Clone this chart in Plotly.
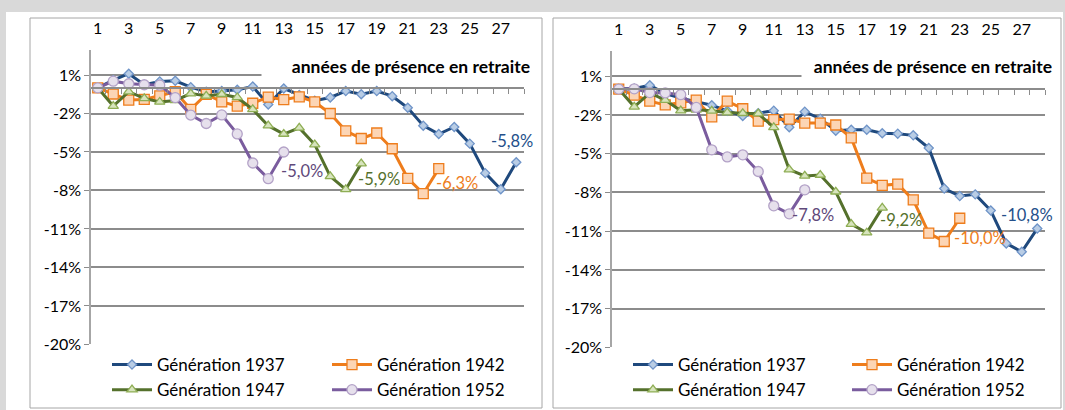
import plotly.graph_objects as go

# ---------------- data ----------------
years = ["Génération 1937", "Génération 1942", "Génération 1947", "Génération 1952"]

# left panel (values in %)
left_1937 = [0, 0.6, 1.1, 0.25, 0.5, 0.55, 0.05, -0.3, -0.25, -0.15, 0.1, -1.3, -0.05, -0.55,
             -1.0, -0.75, -0.25, -0.5, -0.25, -0.65, -1.55, -2.95, -3.6, -3.05, -4.35, -6.65, -7.9, -5.8]
left_1942 = [0, -0.48, -0.95, -0.9, -0.63, -0.3, -1.68, -0.5, -1.1, -1.42, -1.2, -0.72, -0.92,
             -0.7, -1.1, -2.0, -3.35, -3.95, -3.52, -4.75, -7.05, -8.25, -6.3]
left_1947 = [0, -1.42, -0.3, -0.82, -1.1, -0.98, -0.45, -0.62, -0.5, -0.75, -1.68, -2.95, -3.6,
             -3.12, -4.42, -6.9, -7.92, -5.9]
left_1952 = [0, 0.52, 0.32, 0.24, 0.21, -0.76, -2.12, -2.78, -2.11, -3.59, -5.86, -7.08, -5.0]

# right panel (values in %)
right_1937 = [0, 0.05, 0.3, -0.35, -0.7, -0.95, -1.25, -1.68, -2.08, -1.86, -1.67, -2.95, -1.75,
              -2.29, -3.22, -3.15, -3.15, -3.42, -3.45, -3.58, -4.56, -7.7, -8.28, -8.15, -9.4,
              -11.95, -12.6, -10.8]
right_1942 = [0, -0.47, -0.93, -1.22, -1.06, -0.85, -2.15, -0.93, -1.52, -2.48, -2.37, -2.32,
              -2.63, -2.63, -2.78, -3.78, -6.9, -7.45, -7.36, -8.58, -11.15, -11.8, -10.0]
right_1947 = [0, -1.37, -0.3, -0.85, -1.67, -1.6, -1.68, -1.82, -1.87, -1.9, -2.96, -6.23, -6.72,
              -6.65, -7.95, -10.45, -11.12, -9.2]
right_1952 = [0, 0.02, -0.27, -0.3, -0.43, -1.42, -4.7, -5.25, -5.09, -6.38, -9.04, -9.66, -7.8]

y_ticks = [1, -2, -5, -8, -11, -14, -17, -20]
x_tick_labels = list(range(1, 28, 2))
n_years = 28
axis_title = "années de présence en retraite"

# ---------------- styling ----------------
W, H = 1065, 410
FONT = "Lato"
line_colors = ["#1F497D", "#EE7D1C", "#55712C", "#7A5C9E"]
label_colors = ["#24508A", "#EE7D1C", "#55712C", "#5F497A"]
marker_sym = ["diamond", "square", "triangle-up", "circle"]
marker_size = [7, 10, 9, 10]
marker_fill = ["#B9CDE5", "#FCD5B5", "#D7E4BD", "#E6E0EC"]
marker_line = ["#6F94C8", "#EE7D1C", "#8FAE55", "#B3A2C7"]

YMIN, YMAX = -20, 2.95


def py(px):
    return 1 - px / H


panels = [
    dict(data=[left_1937, left_1942, left_1947, left_1952], xd=[90 / W, 524 / W],
         yd=[py(344.4), py(50)], xa="x", ya="y", xo="x3",
         legends=["legend", "legend2", "legend", "legend2"],
         lab_off=[(-4, -21), (18, 14), (18, 15), (18, 19)], title_x=533, title_w=266),
    dict(data=[right_1937, right_1942, right_1947, right_1952], xd=[611 / W, 1045 / W],
         yd=[py(347.4), py(51)], xa="x2", ya="y2", xo="x4",
         legends=["legend3", "legend4", "legend3", "legend4"],
         lab_off=[(-10, -14), (20, 20), (19, 12), (8, 25)], title_x=1055, title_w=248),
]

fig = go.Figure()
annotations = []
for p in panels:
    for i, vals in enumerate(p["data"]):
        xs = list(range(1, len(vals) + 1))
        fig.add_trace(go.Scatter(
            x=xs, y=vals, mode="lines+markers", name=years[i],
            xaxis=p["xa"], yaxis=p["ya"], legend=p["legends"][i],
            line=dict(color=line_colors[i], width=3),
            marker=dict(symbol=marker_sym[i], size=marker_size[i], color=marker_fill[i],
                        line=dict(color=marker_line[i], width=1.3)),
            hoverinfo="skip"))
        dx, dy = p["lab_off"][i]
        last = vals[-1]
        annotations.append(dict(
            x=len(vals), y=last, xref=p["xa"], yref=p["ya"],
            text=("%.1f%%" % last).replace(".", ","), showarrow=False,
            xshift=dx, yshift=-dy, xanchor="center", yanchor="middle",
            font=dict(family=FONT, size=16.5, color=label_colors[i])))
    # helper trace for the overlay (label) axis
    fig.add_trace(go.Scatter(x=[1], y=[None], xaxis=p["xo"], yaxis=p["ya"],
                             showlegend=False, hoverinfo="skip"))
    # axis title with white box
    annotations.append(dict(
        x=p["title_x"] / W, y=py(66), xref="paper", yref="paper",
        text="<b>%s</b>" % axis_title, showarrow=False, xanchor="right", yanchor="middle",
        align="right", width=p["title_w"], height=22, bgcolor="white", borderpad=2,
        font=dict(family=FONT, size=17.5, color="#000000")))

layout_axes = {}
for k, p in enumerate(panels):
    sfx = "" if k == 0 else "2"
    osfx = "3" if k == 0 else "4"
    zero_pos = p["yd"][0] + (0 - YMIN) / (YMAX - YMIN) * (p["yd"][1] - p["yd"][0])
    layout_axes["xaxis" + sfx] = dict(
        domain=p["xd"], range=[0.5, n_years + 0.5], anchor="free", position=zero_pos,
        showgrid=False, zeroline=False, showline=True, linecolor="#8C8C8C", linewidth=1.5,
        ticks="outside", ticklen=5, tickcolor="#8C8C8C", tickwidth=1.3,
        tickvals=[v + 0.5 for v in range(0, n_years + 1)], showticklabels=False, fixedrange=True)
    layout_axes["xaxis" + osfx] = dict(
        overlaying="x" + sfx, range=[0.5, n_years + 0.5], side="top", anchor="y" + sfx,
        showgrid=False, zeroline=False, showline=False,
        tickvals=x_tick_labels, ticktext=[str(v) for v in x_tick_labels],
        ticks="outside", ticklen=9, tickcolor="rgba(0,0,0,0)",
        tickfont=dict(family=FONT, size=16, color="#000000"), fixedrange=True)
    layout_axes["yaxis" + sfx] = dict(
        domain=p["yd"], range=[YMIN, YMAX], anchor="free", position=p["xd"][0],
        tickvals=y_ticks, ticktext=["%d%%" % v for v in y_ticks],
        showgrid=True, gridcolor="#8C8C8C", gridwidth=1.5, zeroline=False,
        showline=True, linecolor="#A6A6A6", linewidth=1.5,
        ticks="outside", ticklen=5, tickcolor="#8C8C8C",
        tickfont=dict(family=FONT, size=16, color="#000000"), fixedrange=True)

legend_common = dict(orientation="v", bgcolor="rgba(0,0,0,0)", xanchor="left", yanchor="top",
                     font=dict(family=FONT, size=17, color="#000000"), tracegroupgap=0,
                     itemwidth=40)
legends = {
    "legend": dict(x=(156 - 49) / W, y=py(347), **legend_common),
    "legend2": dict(x=(376 - 49) / W, y=py(347), **legend_common),
    "legend3": dict(x=(677 - 49) / W, y=py(347), **legend_common),
    "legend4": dict(x=(896 - 49) / W, y=py(347), **legend_common),
}

shapes = [
    dict(type="rect", xref="paper", yref="paper", x0=0, x1=1, y0=py(12), y1=1,
         fillcolor="#D9D9D9", line=dict(width=0), layer="below"),
    dict(type="rect", xref="paper", yref="paper", x0=0, x1=6 / W, y0=0, y1=1,
         fillcolor="#D9D9D9", line=dict(width=0), layer="below"),
    dict(type="rect", xref="paper", yref="paper", x0=1063 / W, x1=1, y0=0, y1=1,
         fillcolor="#D9D9D9", line=dict(width=0), layer="below"),
    dict(type="rect", xref="paper", yref="paper", x0=30 / W, x1=542 / W, y0=py(408), y1=py(18),
         line=dict(color="#A6A6A6", width=1), layer="below"),
    dict(type="rect", xref="paper", yref="paper", x0=553 / W, x1=1061 / W, y0=py(408), y1=py(18),
         line=dict(color="#A6A6A6", width=1), layer="below"),
]

fig.update_layout(
    width=W, height=H, margin=dict(l=0, r=0, t=0, b=0, autoexpand=False),
    paper_bgcolor="white", plot_bgcolor="rgba(0,0,0,0)",
    font=dict(family=FONT, size=16, color="#000000"),
    annotations=annotations, shapes=shapes, showlegend=True,
    **layout_axes, **legends)

fig.write_html("out.html", config={"displayModeBar": False},
               post_script="document.body.style.margin='0';document.body.style.overflow='hidden';")
